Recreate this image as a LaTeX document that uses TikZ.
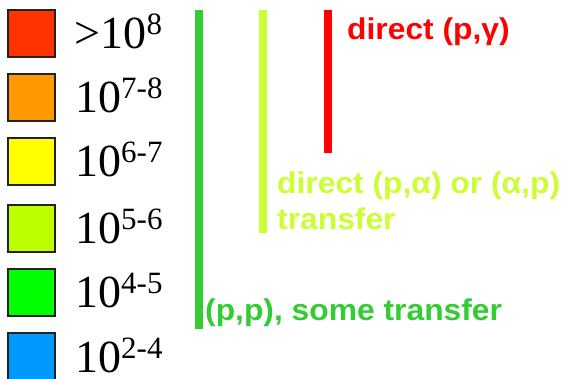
\documentclass[tikz,border=0pt]{standalone}
\usepackage{fontspec}
\setmainfont{Liberation Serif}
\newfontfamily\notefont[FakeStretch=1.06]{Liberation Sans}
\definecolor{cRed}{HTML}{FF3300}
\definecolor{cOrange}{HTML}{FF9900}
\definecolor{cYellow}{HTML}{FFFF00}
\definecolor{cLime}{HTML}{BBFF00}
\definecolor{cGreen}{HTML}{00FF00}
\definecolor{cBlue}{HTML}{0099FF}
\definecolor{barGreen}{HTML}{33CC33}
\definecolor{barLime}{HTML}{CCFF33}
\definecolor{barRed}{HTML}{FF0000}
\definecolor{boxEdge}{HTML}{222222}
\tikzset{
  swatch/.style={draw=boxEdge, line width=1.6pt, minimum size=47.5pt, inner sep=0pt, fill=#1},
  scale lbl/.style={anchor=base west, inner sep=0pt, font=\fontsize{46}{46}\selectfont},
  note/.style={anchor=base west, inner sep=0pt, font=\notefont\bfseries\fontsize{30}{36}\selectfont, text=#1, align=left},
  bar/.style={line width=8pt, draw=#1}
}
\newcommand{\supr}[1]{\raisebox{14pt}{\fontsize{31}{31}\selectfont #1}}
\newcommand{\nodepth}[1]{\raisebox{0pt}[\height][0pt]{#1}}
\begin{document}
\begin{tikzpicture}[x=1pt, y=-1pt]
\useasboundingbox (0,0) rectangle (565,379);
\begin{scope}
\clip (0,0) rectangle (565,379);
\node[swatch=cRed]    (s1) at (31.5,33.5) {};
\node[swatch=cOrange] (s2) at (31.5,97.5) {};
\node[swatch=cYellow] (s3) at (31.5,161.5) {};
\node[swatch=cLime]   (s4) at (31.5,228.5) {};
\node[swatch=cGreen]  (s5) at (31.5,292.5) {};
\node[swatch=cBlue]   (s6) at (31.5,356.5) {};
\end{scope}
\node[scale lbl] (l1) at (74.5,49) {\nodepth{>10\supr{8}}};
\node[scale lbl] (l2) at (75,113)  {\nodepth{10\supr{7-8}}};
\node[scale lbl] (l3) at (75,177)  {\nodepth{10\supr{6-7}}};
\node[scale lbl] (l4) at (75,244)  {\nodepth{10\supr{5-6}}};
\node[scale lbl] (l5) at (75,308)  {\nodepth{10\supr{4-5}}};
\node[scale lbl] (l6) at (75,373)  {\nodepth{10\supr{2-4}}};
\draw[bar=barGreen] (199,10) -- (199,329);
\draw[bar=barLime]  (263,10) -- (263,233);
\draw[bar=barRed]   (327.5,10) -- (327.5,153);
\node[note=barRed]   (t1) at (347,40)  {direct (p,γ)};
\node[note=barLime]  (t2) at (277,194) {direct (p,α) or (α,p)};
\node[note=barLime]  (t3) at (277,230) {transfer};
\node[note=barGreen] (t4) at (205,321) {(p,p), some transfer};
\end{tikzpicture}
\end{document}
